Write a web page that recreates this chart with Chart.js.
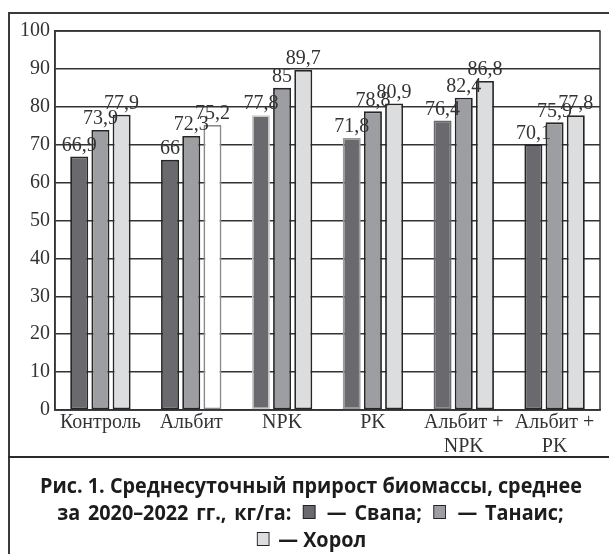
<!DOCTYPE html>
<html lang="ru">
<head>
<meta charset="utf-8">
<script src="https://cdn.jsdelivr.net/npm/chart.js@4/dist/chart.umd.min.js"></script>
<style>
  html, body { margin: 0; padding: 0; background: #fff; }
  #page { position: relative; width: 609px; height: 554px; overflow: hidden; }
  #frame { position: absolute; left: 8px; top: 12px; width: 620px; height: 560px;
           border-left: 2px solid #3a3a3a; border-top: 2px solid #3a3a3a; }
  #divider { position: absolute; left: 8px; top: 456px; width: 620px; height: 0;
             border-top: 2px solid #2a2a2a; }
  #chartBox { position: absolute; left: 0; top: 0; width: 609px; height: 457px; }
  #caption { position: absolute; left: 10px; top: 471px; width: 600px;
             font-family: "Open Sans", "Noto Sans", sans-serif; font-weight: 700;
             font-size: 22px; color: #1c1c1c; text-align: center; }
  .line { white-space: nowrap; height: 27px; line-height: 27px; }
  .line span.t { display: inline-block; transform: scaleX(0.9); transform-origin: center; }
  .line.wide span.t { word-spacing: 3px; }
  .sw { display: inline-block; width: 12px; height: 12px; border: 1.5px solid #222;
        vertical-align: 1px; margin: 0 4px; }
</style>
</head>
<body>
<div id="page">
  <div id="chartBox"><canvas id="c" width="609" height="457"></canvas></div>
  <div id="frame"></div>
  <div id="divider"></div>
  <div id="caption"></div>
</div>
<script>
// Treatments (x categories), multi-line labels as arrays
const categories = ["Контроль", "Альбит", "NPK", "PK", ["Альбит +", "NPK"], ["Альбит +", "PK"]];

// Varieties
const seriesNames = ["Свапа", "Танаис", "Хорол"];
const svapa  = [66.9, 66, 77.8, 71.8, 76.4, 70.1];
const tanais = [73.9, 72.3, 85, 78.8, 82.4, 75.9];
const khorol = [77.9, 75.2, 89.7, 80.9, 86.8, 77.8];

// Y axis
const yMin = 0, yMax = 100, yStep = 10;

const fills = ["#6a6a6e", "#9d9ea2", "#dcdddf"];
const serif = '"Liberation Serif", "DejaVu Serif", serif';

// Per-bar fill and outline (some bars in the print have lighter outlines)
const fillArr = (s, n) => Array.from({length: n}, () => fills[s]);
const svapaBorder  = ["#262626", "#262626", "#c9c9cb", "#9a9a9c", "#6a6a6e", "#262626"];
const tanaisBorder = ["#262626", "#262626", "#262626", "#262626", "#262626", "#262626"];
const khorolBorder = ["#262626", "#8a8a8a", "#262626", "#262626", "#262626", "#262626"];
const khorolFill = fillArr(2, khorol.length);
khorolFill[1] = "#ffffff";

const fmt = v => String(v).replace(".", ",");

// Value labels above each bar
const valueLabels = {
  id: "valueLabels",
  afterDatasetsDraw(chart) {
    const ctx = chart.ctx;
    ctx.save();
    ctx.font = "20px " + serif;
    ctx.fillStyle = "#333";
    ctx.textAlign = "center";
    ctx.textBaseline = "bottom";
    chart.data.datasets.forEach((ds, i) => {
      chart.getDatasetMeta(i).data.forEach((bar, j) => {
        ctx.fillText(fmt(ds.data[j]), bar.x, bar.y - 1);
      });
    });
    ctx.restore();
  }
};

// Frame around the plot area
const plotFrame = {
  id: "plotFrame",
  beforeDatasetsDraw(chart) {
    const a = chart.chartArea, ctx = chart.ctx;
    ctx.save();
    ctx.strokeStyle = "#333";
    ctx.lineWidth = 1.5;
    ctx.strokeRect(a.left, a.top, a.right - a.left, a.bottom - a.top);
    ctx.restore();
  }
};

new Chart(document.getElementById("c"), {
  type: "bar",
  data: {
    labels: categories,
    datasets: [
      { label: seriesNames[0], data: svapa,  backgroundColor: fillArr(0, svapa.length),  borderColor: svapaBorder },
      { label: seriesNames[1], data: tanais, backgroundColor: fillArr(1, tanais.length), borderColor: tanaisBorder },
      { label: seriesNames[2], data: khorol, backgroundColor: khorolFill,                borderColor: khorolBorder }
    ]
  },
  options: {
    responsive: false,
    animation: false,
    devicePixelRatio: 1,
    layout: { padding: { left: 0, right: 9, top: 31, bottom: 0 } },
    datasets: { bar: { borderWidth: 1.8, categoryPercentage: 0.7, barPercentage: 0.85, borderSkipped: false } },
    plugins: { legend: { display: false }, tooltip: { enabled: false }, title: { display: false } },
    scales: {
      x: {
        grid: { display: false, drawTicks: false },
        border: { display: true, color: "#333", width: 1.5 },
        ticks: { color: "#333", font: { family: serif, size: 20 }, padding: 1, maxRotation: 0, autoSkip: false },
        afterFit(scale) { scale.height = 47; }
      },
      y: {
        min: yMin, max: yMax,
        grid: { color: "#333", lineWidth: 1.5, drawTicks: false },
        border: { display: true, color: "#333", width: 1.5 },
        ticks: { stepSize: yStep, color: "#333", font: { family: serif, size: 20 }, padding: 5 },
        afterFit(scale) { scale.width = 55; }
      }
    }
  },
  plugins: [plotFrame, valueLabels]
});

// Caption with inline series swatches
const sw = c => '<span class="sw" style="background:' + c + '"></span>';
document.getElementById("caption").innerHTML =
  '<div class="line"><span class="t">Рис. 1. Среднесуточный прирост биомассы, среднее</span></div>' +
  '<div class="line wide"><span class="t">за 2020–2022 гг., кг/га: ' + sw(fills[0]) + ' — ' + seriesNames[0] + '; ' +
    sw(fills[1]) + ' — ' + seriesNames[1] + ';</span></div>' +
  '<div class="line"><span class="t">' + sw(fills[2]) + ' — ' + seriesNames[2] + '</span></div>';
</script>
</body>
</html>
